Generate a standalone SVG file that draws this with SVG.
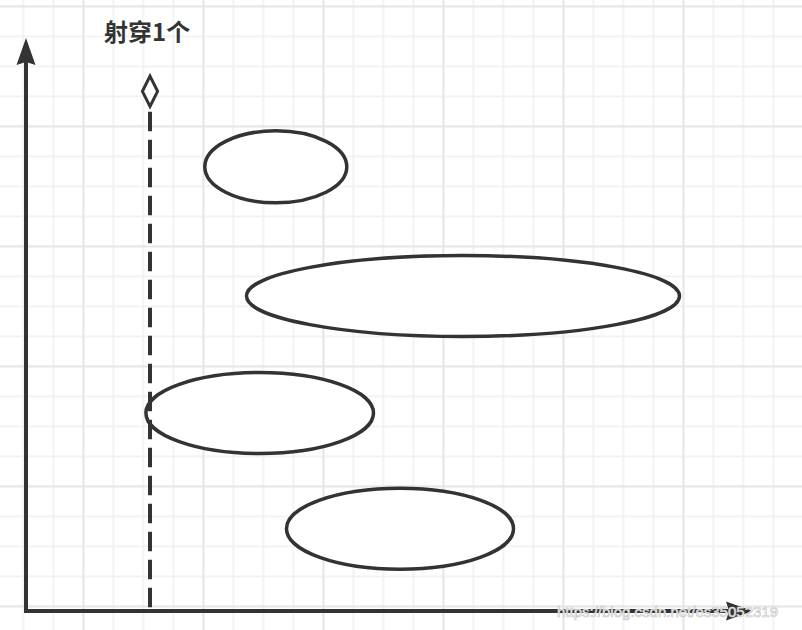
<svg xmlns="http://www.w3.org/2000/svg" width="802" height="630" viewBox="0 0 802 630">
  <defs>
    <pattern id="gridMinor" patternUnits="userSpaceOnUse" x="22.5" y="5.5" width="30" height="30">
      <rect x="0" y="0" width="30" height="1.6" fill="#f0f0f0"/>
      <rect x="0" y="0" width="1.6" height="30" fill="#f0f0f0"/>
    </pattern>
    <pattern id="gridMajor" patternUnits="userSpaceOnUse" x="82.5" y="5.5" width="120" height="120">
      <rect x="0" y="0" width="120" height="1.8" fill="#e6e6e6"/>
      <rect x="0" y="0" width="1.8" height="120" fill="#e6e6e6"/>
    </pattern>
    <marker id="arrow" markerUnits="userSpaceOnUse" viewBox="0 0 27 20" markerWidth="27" markerHeight="20" refX="3" refY="10" orient="auto-start-reverse">
      <path d="M0 0.5 L27 10 L0 19.5 L3 10 Z" fill="#333333"/>
    </marker>
    <style>
      .shape { fill: #ffffff; stroke: #333333; stroke-width: 3.5; }
      .diamond { fill: #ffffff; stroke: #333333; stroke-width: 3; }
      .axis { fill: none; stroke: #333333; stroke-width: 4; stroke-linejoin: miter; }
      .dash { fill: none; stroke: #333333; stroke-width: 4; stroke-dasharray: 19.5 8.5; }
      .title { font-family: "Noto Sans CJK SC", "Noto Sans", sans-serif; font-weight: bold; font-size: 24px; fill: #333333; }
      .wm { font-family: "Liberation Sans", Arial, sans-serif; font-size: 15px; fill: #ffffff; stroke: #c8c8c8; stroke-width: 0.7; }
    </style>
  </defs>

  <g id="background">
    <rect x="0" y="0" width="802" height="630" fill="#ffffff"/>
    <rect x="0" y="0" width="802" height="630" fill="url(#gridMinor)"/>
    <rect x="0" y="0" width="802" height="630" fill="url(#gridMajor)"/>
  </g>

  <g id="ellipse1"><ellipse class="shape" cx="275.8" cy="166.8" rx="71" ry="36"/></g>
  <g id="ellipse2"><ellipse class="shape" cx="463" cy="296" rx="216.5" ry="40.5"/></g>
  <g id="ellipse3"><ellipse class="shape" cx="259.7" cy="413" rx="113.8" ry="40.5"/></g>
  <g id="ellipse4"><ellipse class="shape" cx="400" cy="528.7" rx="113.5" ry="40.5"/></g>

  <g id="connectors">
    <path class="axis" d="M26 62 V611 H729" marker-start="url(#arrow)" marker-end="url(#arrow)"/>
    <path class="dash" d="M150 111.7 V609"/>
    <polygon class="diamond" points="150,76.2 157.6,91.3 150,106.5 142.4,91.3"/>
  </g>

  <g id="label">
    <text class="title" x="104" y="41">射穿1个</text>
  </g>

  <text class="wm" x="557" y="617">https://blog.csdn.net/es35052319</text>
</svg>
